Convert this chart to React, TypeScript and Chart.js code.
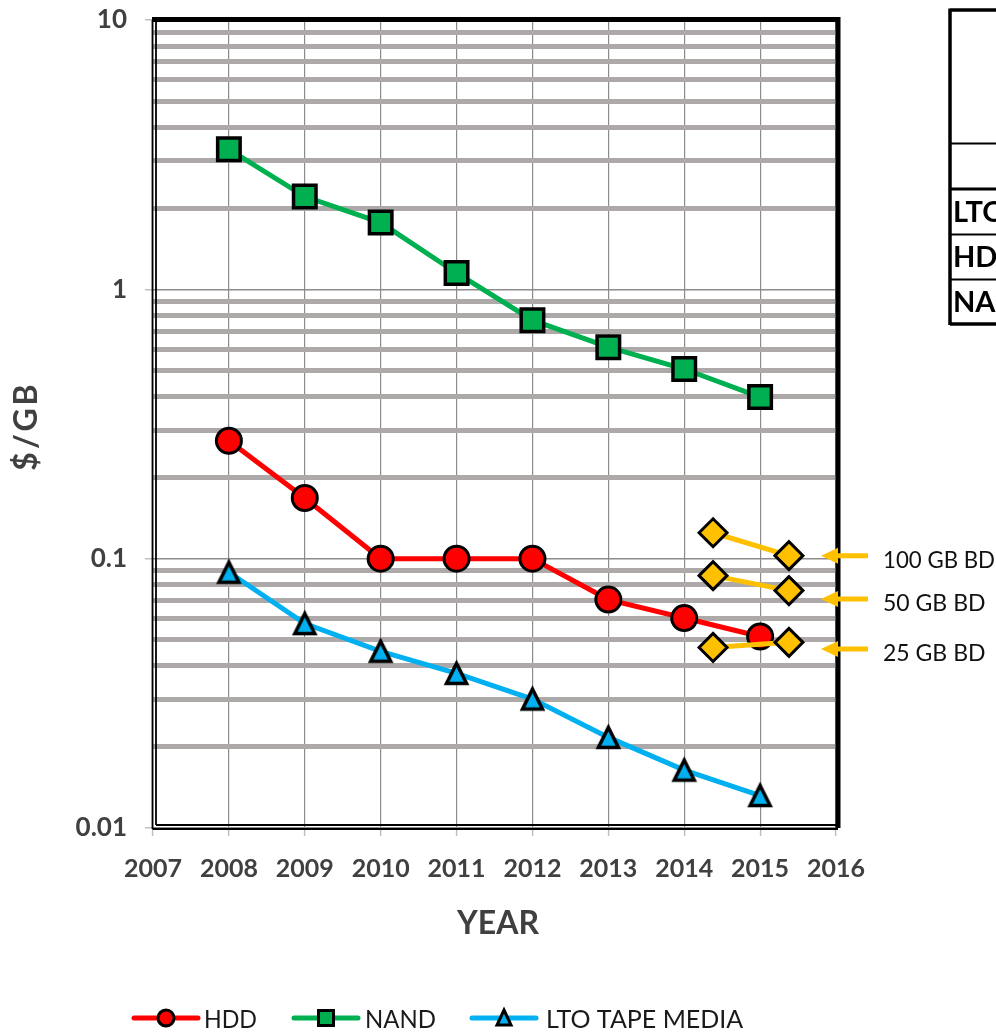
import React, { useEffect, useRef } from "react";
import { Chart, registerables } from "chart.js";
Chart.register(...registerables);

// ---------- data ----------
const YEARS = [2008, 2009, 2010, 2011, 2012, 2013, 2014, 2015];
const HDD = [0.274, 0.168, 0.1, 0.1, 0.1, 0.0705, 0.0602, 0.0514];
const NAND = [3.31, 2.21, 1.77, 1.15, 0.768, 0.61, 0.506, 0.398];
const LTO = [0.089, 0.0574, 0.0453, 0.0375, 0.0301, 0.0217, 0.0164, 0.0132];
const BD_X = [2014.38, 2015.38];
const BD_100 = [0.1248, 0.1026];
const BD_50 = [0.0865, 0.0761];
const BD_25 = [0.0468, 0.0489];
const BD_LABELS = ["100 GB BD", "50 GB BD", "25 GB BD"];
const BD_ARROW_AT = [0.1026, 0.0709, 0.0462];
const X_MIN = 2007;
const X_MAX = 2016;
const Y_DECADES = [0.01, 0.1, 1];
const Y_MULTS = [1, 2, 3, 4, 5, 6, 7, 8, 9];
const Y_MAX = 10;
const LEGEND = [
  { label: "HDD", color: "#FF0000", marker: "circle" },
  { label: "NAND", color: "#00B050", marker: "square" },
  { label: "LTO TAPE MEDIA", color: "#00B0F0", marker: "triangle" },
];
const TABLE_ROWS = ["LTO", "HDD", "NAND"];

const FONT = "Lato, 'Open Sans', sans-serif";

function isDecade(v: number | undefined) {
  if (v === undefined || v === null) return false;
  const l = Math.log10(v);
  return Math.abs(l - Math.round(l)) < 1e-6;
}

function makeTriangle(w: number, h: number, fill: string, bw: number) {
  const pad = bw + 3;
  const c = document.createElement("canvas");
  c.width = Math.ceil(w + pad * 2);
  c.height = Math.ceil(h + pad * 2);
  const g = c.getContext("2d")!;
  const cx = c.width / 2;
  const top = (c.height - h) / 2;
  g.beginPath();
  g.moveTo(cx, top);
  g.lineTo(cx + w / 2, top + h);
  g.lineTo(cx - w / 2, top + h);
  g.closePath();
  g.fillStyle = fill;
  g.fill();
  g.lineJoin = "miter";
  g.lineWidth = bw;
  g.strokeStyle = "#000";
  g.stroke();
  return c;
}

const decorPlugin = {
  id: "decor",
  beforeDatasetsDraw(chart: any) {
    const { ctx, chartArea: a } = chart;
    ctx.save();
    ctx.strokeStyle = "#000";
    // top & right thick borders
    ctx.lineWidth = 5;
    ctx.beginPath();
    ctx.moveTo(a.left - 1, a.top - 0.5);
    ctx.lineTo(a.right + 2, a.top - 0.5);
    ctx.lineTo(a.right + 2, a.bottom);
    ctx.stroke();
    // double left axis
    ctx.lineWidth = 1.8;
    ctx.beginPath();
    ctx.moveTo(a.left - 0.5, a.top);
    ctx.lineTo(a.left - 0.5, a.bottom + 1);
    ctx.moveTo(a.left + 3, a.top);
    ctx.lineTo(a.left + 3, a.bottom - 3);
    ctx.stroke();
    // double bottom axis
    ctx.beginPath();
    ctx.moveTo(a.left - 0.5, a.bottom + 1);
    ctx.lineTo(a.right + 2, a.bottom + 1);
    ctx.moveTo(a.left + 3, a.bottom - 3);
    ctx.lineTo(a.right + 2, a.bottom - 3);
    ctx.stroke();
    ctx.restore();
  },
  afterDraw(chart: any) {
    const { ctx } = chart;
    const ys = chart.scales.y;
    ctx.save();
    // axis titles
    ctx.fillStyle = "#404040";
    ctx.textAlign = "center";
    ctx.textBaseline = "middle";
    ctx.font = `bold 32px ${FONT}`;
    ctx.fillText("YEAR", 498, 924, 82);
    ctx.save();
    ctx.translate(27, 427);
    ctx.rotate(-Math.PI / 2);
    (ctx as any).letterSpacing = "3px";
    ctx.fillText("$/GB", 1, 0);
    ctx.restore();

    // BD arrows + labels
    BD_ARROW_AT.forEach((v, i) => {
      const y = ys.getPixelForValue(v);
      ctx.strokeStyle = "#FFC000";
      ctx.fillStyle = "#FFC000";
      ctx.lineWidth = 5;
      ctx.beginPath();
      ctx.moveTo(835, y);
      ctx.lineTo(868, y);
      ctx.stroke();
      ctx.beginPath();
      ctx.moveTo(821, y);
      ctx.lineTo(838, y - 8);
      ctx.lineTo(838, y + 8);
      ctx.closePath();
      ctx.fill();
      ctx.fillStyle = "#111";
      ctx.textAlign = "left";
      ctx.textBaseline = "middle";
      ctx.font = `23px ${FONT}`;
      ctx.fillText(BD_LABELS[i], 883, y + 5, 112);
    });

    // legend
    const lx = [
      { l0: 134, l1: 198, m: 166, t: 204, tw: 53 },
      { l0: 294, l1: 358, m: 326, t: 365, tw: 71 },
      { l0: 472, l1: 536, m: 504, t: 546, tw: 201 },
    ];
    const ly = 1018;
    LEGEND.forEach((it, i) => {
      const p = lx[i];
      ctx.strokeStyle = it.color;
      ctx.lineWidth = 5;
      ctx.lineCap = "round";
      ctx.beginPath();
      ctx.moveTo(p.l0, ly);
      ctx.lineTo(p.l1, ly);
      ctx.stroke();
      ctx.lineCap = "butt";
      ctx.fillStyle = it.color;
      ctx.strokeStyle = "#000";
      ctx.lineWidth = 3;
      ctx.beginPath();
      if (it.marker === "circle") {
        ctx.arc(p.m, ly, 8, 0, Math.PI * 2);
      } else if (it.marker === "square") {
        ctx.rect(p.m - 7.5, ly - 7.5, 15, 15);
      } else {
        ctx.moveTo(p.m, ly - 8);
        ctx.lineTo(p.m + 7, ly + 7);
        ctx.lineTo(p.m - 7, ly + 7);
        ctx.closePath();
      }
      ctx.fill();
      ctx.stroke();
      ctx.fillStyle = "#1a1a1a";
      ctx.textAlign = "left";
      ctx.textBaseline = "middle";
      ctx.font = `25px ${FONT}`;
      ctx.fillText(it.label, p.t, ly + 2, p.tw);
    });

    // table (top right, cut by the edge)
    ctx.strokeStyle = "#000";
    ctx.lineWidth = 3.5;
    ctx.beginPath();
    ctx.moveTo(950, 10);
    ctx.lineTo(1000, 10);
    ctx.moveTo(950, 8.5);
    ctx.lineTo(950, 325);
    ctx.moveTo(950, 324);
    ctx.lineTo(1000, 324);
    ctx.stroke();
    ctx.lineWidth = 2;
    [143.5, 234.5, 279.5].forEach((y) => {
      ctx.beginPath();
      ctx.moveTo(950, y);
      ctx.lineTo(1000, y);
      ctx.stroke();
    });
    ctx.lineWidth = 3;
    ctx.beginPath();
    ctx.moveTo(950, 189);
    ctx.lineTo(1000, 189);
    ctx.stroke();
    ctx.fillStyle = "#000";
    ctx.font = `bold 29px ${FONT}`;
    ctx.textAlign = "left";
    ctx.textBaseline = "middle";
    const rowMid = [212, 257, 302];
    TABLE_ROWS.forEach((t, i) => ctx.fillText(t, 953, rowMid[i] + 1));
    ctx.restore();
  },
};

export default function App() {
  const ref = useRef<HTMLCanvasElement | null>(null);
  useEffect(() => {
    document.body.style.margin = "0";
    const tri = makeTriangle(20, 20, "#00B0F0", 3.5);
    const pts = (xs: number[], ys: number[]) => ys.map((y, i) => ({ x: xs[i], y }));
    const bd = (vals: number[]) => ({
      label: "BD",
      data: pts(BD_X, vals),
      borderColor: "#FFC000",
      borderWidth: 5,
      pointStyle: "rectRot",
      pointRadius: 14,
      pointHoverRadius: 14,
      pointBackgroundColor: "#FFC000",
      pointBorderColor: "#000",
      pointBorderWidth: 3,
      order: 0,
    });
    const chart = new Chart(ref.current!, {
      type: "line",
      data: {
        datasets: [
          {
            label: "HDD",
            data: pts(YEARS, HDD),
            borderColor: "#FF0000",
            borderWidth: 5,
            pointStyle: "circle",
            pointRadius: 12.5,
            pointHoverRadius: 12.5,
            pointBackgroundColor: "#FF0000",
            pointBorderColor: "#000",
            pointBorderWidth: 3,
            order: 2,
          },
          {
            label: "NAND",
            data: pts(YEARS, NAND),
            borderColor: "#00B050",
            borderWidth: 5,
            pointStyle: "rect",
            pointRadius: 15.9,
            pointHoverRadius: 15.9,
            pointBackgroundColor: "#00B050",
            pointBorderColor: "#000",
            pointBorderWidth: 3.5,
            order: 3,
          },
          {
            label: "LTO TAPE MEDIA",
            data: pts(YEARS, LTO),
            borderColor: "#00B0F0",
            borderWidth: 5,
            pointStyle: tri as any,
            pointRadius: 12,
            pointHoverRadius: 12,
            order: 4,
          },
          bd(BD_100),
          bd(BD_50),
          bd(BD_25),
        ] as any,
      },
      options: {
        animation: false,
        responsive: false,
        maintainAspectRatio: false,
        events: [],
        layout: { padding: { left: 0, top: 20, right: 160, bottom: 0 } },
        plugins: { legend: { display: false }, tooltip: { enabled: false }, title: { display: false } },
        elements: { line: { tension: 0 } },
        scales: {
          x: {
            type: "linear",
            min: X_MIN,
            max: X_MAX,
            afterFit: (s: any) => {
              s.height = 205;
              s.paddingLeft = 0;
              s.paddingRight = 0;
            },
            border: { display: false },
            grid: { color: "#8c8c8c", lineWidth: 1.2, tickLength: 8, tickColor: "#c0c0c0", tickWidth: 1.5 },
            ticks: {
              stepSize: 1,
              autoSkip: false,
              maxRotation: 0,
              padding: 18,
              color: "#404040",
              font: { family: FONT, size: 25, weight: "bold" },
              callback: (v: any) => String(v),
            },
          },
          y: {
            type: "logarithmic",
            min: Y_DECADES[0],
            max: Y_MAX,
            afterFit: (s: any) => {
              s.width = 153;
              s.paddingTop = 0;
              s.paddingBottom = 0;
            },
            afterBuildTicks: (s: any) => {
              const t: any[] = [];
              Y_DECADES.forEach((d) => Y_MULTS.forEach((m) => t.push({ value: +(d * m).toPrecision(3) })));
              t.push({ value: Y_MAX });
              s.ticks = t;
            },
            border: { display: false },
            grid: {
              color: (c: any) => (isDecade(c.tick?.value) ? "#8c8c8c" : "#ADA9A9"),
              lineWidth: (c: any) => (isDecade(c.tick?.value) ? 1.5 : 5),
              tickColor: (c: any) => (isDecade(c.tick?.value) ? "#c0c0c0" : "rgba(0,0,0,0)"),
              tickWidth: 1.5,
              tickLength: 8,
            },
            ticks: {
              autoSkip: false,
              padding: 18,
              color: "#404040",
              font: { family: FONT, size: 26, weight: "bold" },
              callback: (v: any) => (isDecade(Number(v)) ? String(Number(v)) : ""),
            },
          },
        },
      } as any,
      plugins: [decorPlugin],
    });
    return () => chart.destroy();
  }, []);
  return <canvas ref={ref} width={996} height={1033} style={{ display: "block" }} />;
}
